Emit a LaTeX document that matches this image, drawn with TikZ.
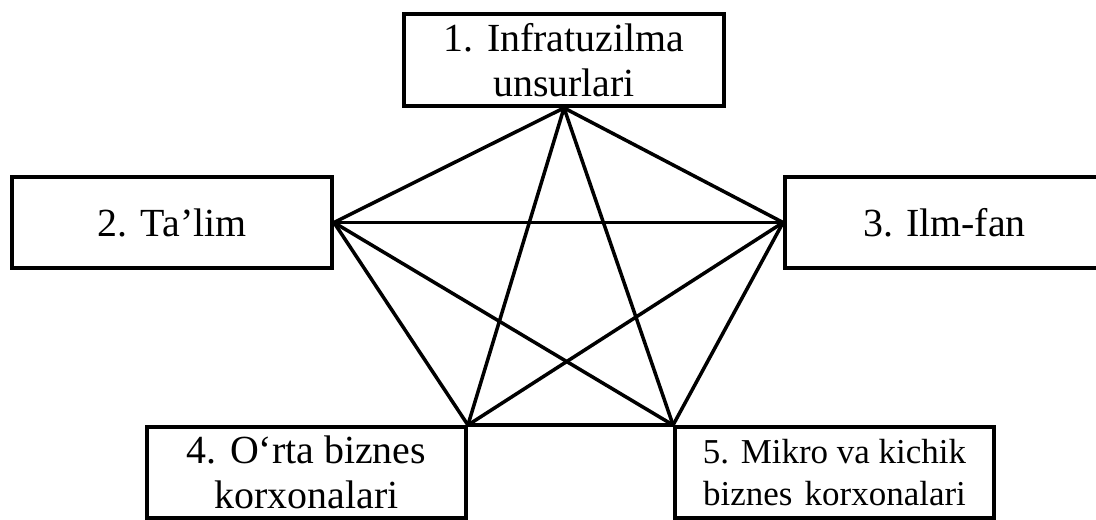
\documentclass[tikz,border=0pt]{standalone}
\usepackage{fontspec}
\setmainfont{Liberation Serif}
\begin{document}
\begin{tikzpicture}[x=0.02cm,y=-0.02cm,
  boxnode/.style={draw=black,line width=2.2pt,rectangle,inner sep=0pt,align=center,
    minimum width=320*0.02cm,minimum height=91*0.02cm,
    font=\fontsize{22.7pt}{25.5pt}\selectfont},
  smallbox/.style={boxnode,font=\fontsize{19.9pt}{24.4pt}\selectfont},
  link/.style={line width=2pt,black,line cap=round}]
\useasboundingbox (0,0) rectangle (1096,520);
\clip (0,0) rectangle (1096,520);
\node[boxnode,minimum height=92*0.02cm] (b1) at (564,60) {1. Infratuzilma\\unsurlari};
\node[boxnode] (b2) at (172,222.5) {2. Ta’lim};
\node[boxnode,minimum width=319*0.02cm] (b3) at (944.5,222.5) {3. Ilm-fan};
\node[boxnode,minimum width=319*0.02cm] (b4) at (306.5,472.5) {4. O‘rta biznes\\korxonalari};
\node[smallbox,minimum width=319*0.02cm] (b5) at (834.5,472.5) {5. Mikro va kichik\\biznes\hspace{2pt} korxonalari};
\coordinate (p1) at (b1.south);
\coordinate (p2) at (b2.east);
\coordinate (p3) at (b3.west);
\coordinate (p4) at (b4.north east);
\coordinate (p5) at (b5.north west);
\draw[link] (p1) -- (p2);
\draw[link] (p1) -- (p3);
\draw[link] (p1) -- (p4);
\draw[link] (p1) -- (p5);
\draw[link] (p2) -- (p3);
\draw[link] (p2) -- (p4);
\draw[link] (p2) -- (p5);
\draw[link] (p3) -- (p4);
\draw[link] (p3) -- (p5);
\draw[link] (p4) -- (p5);
\end{tikzpicture}
\end{document}
